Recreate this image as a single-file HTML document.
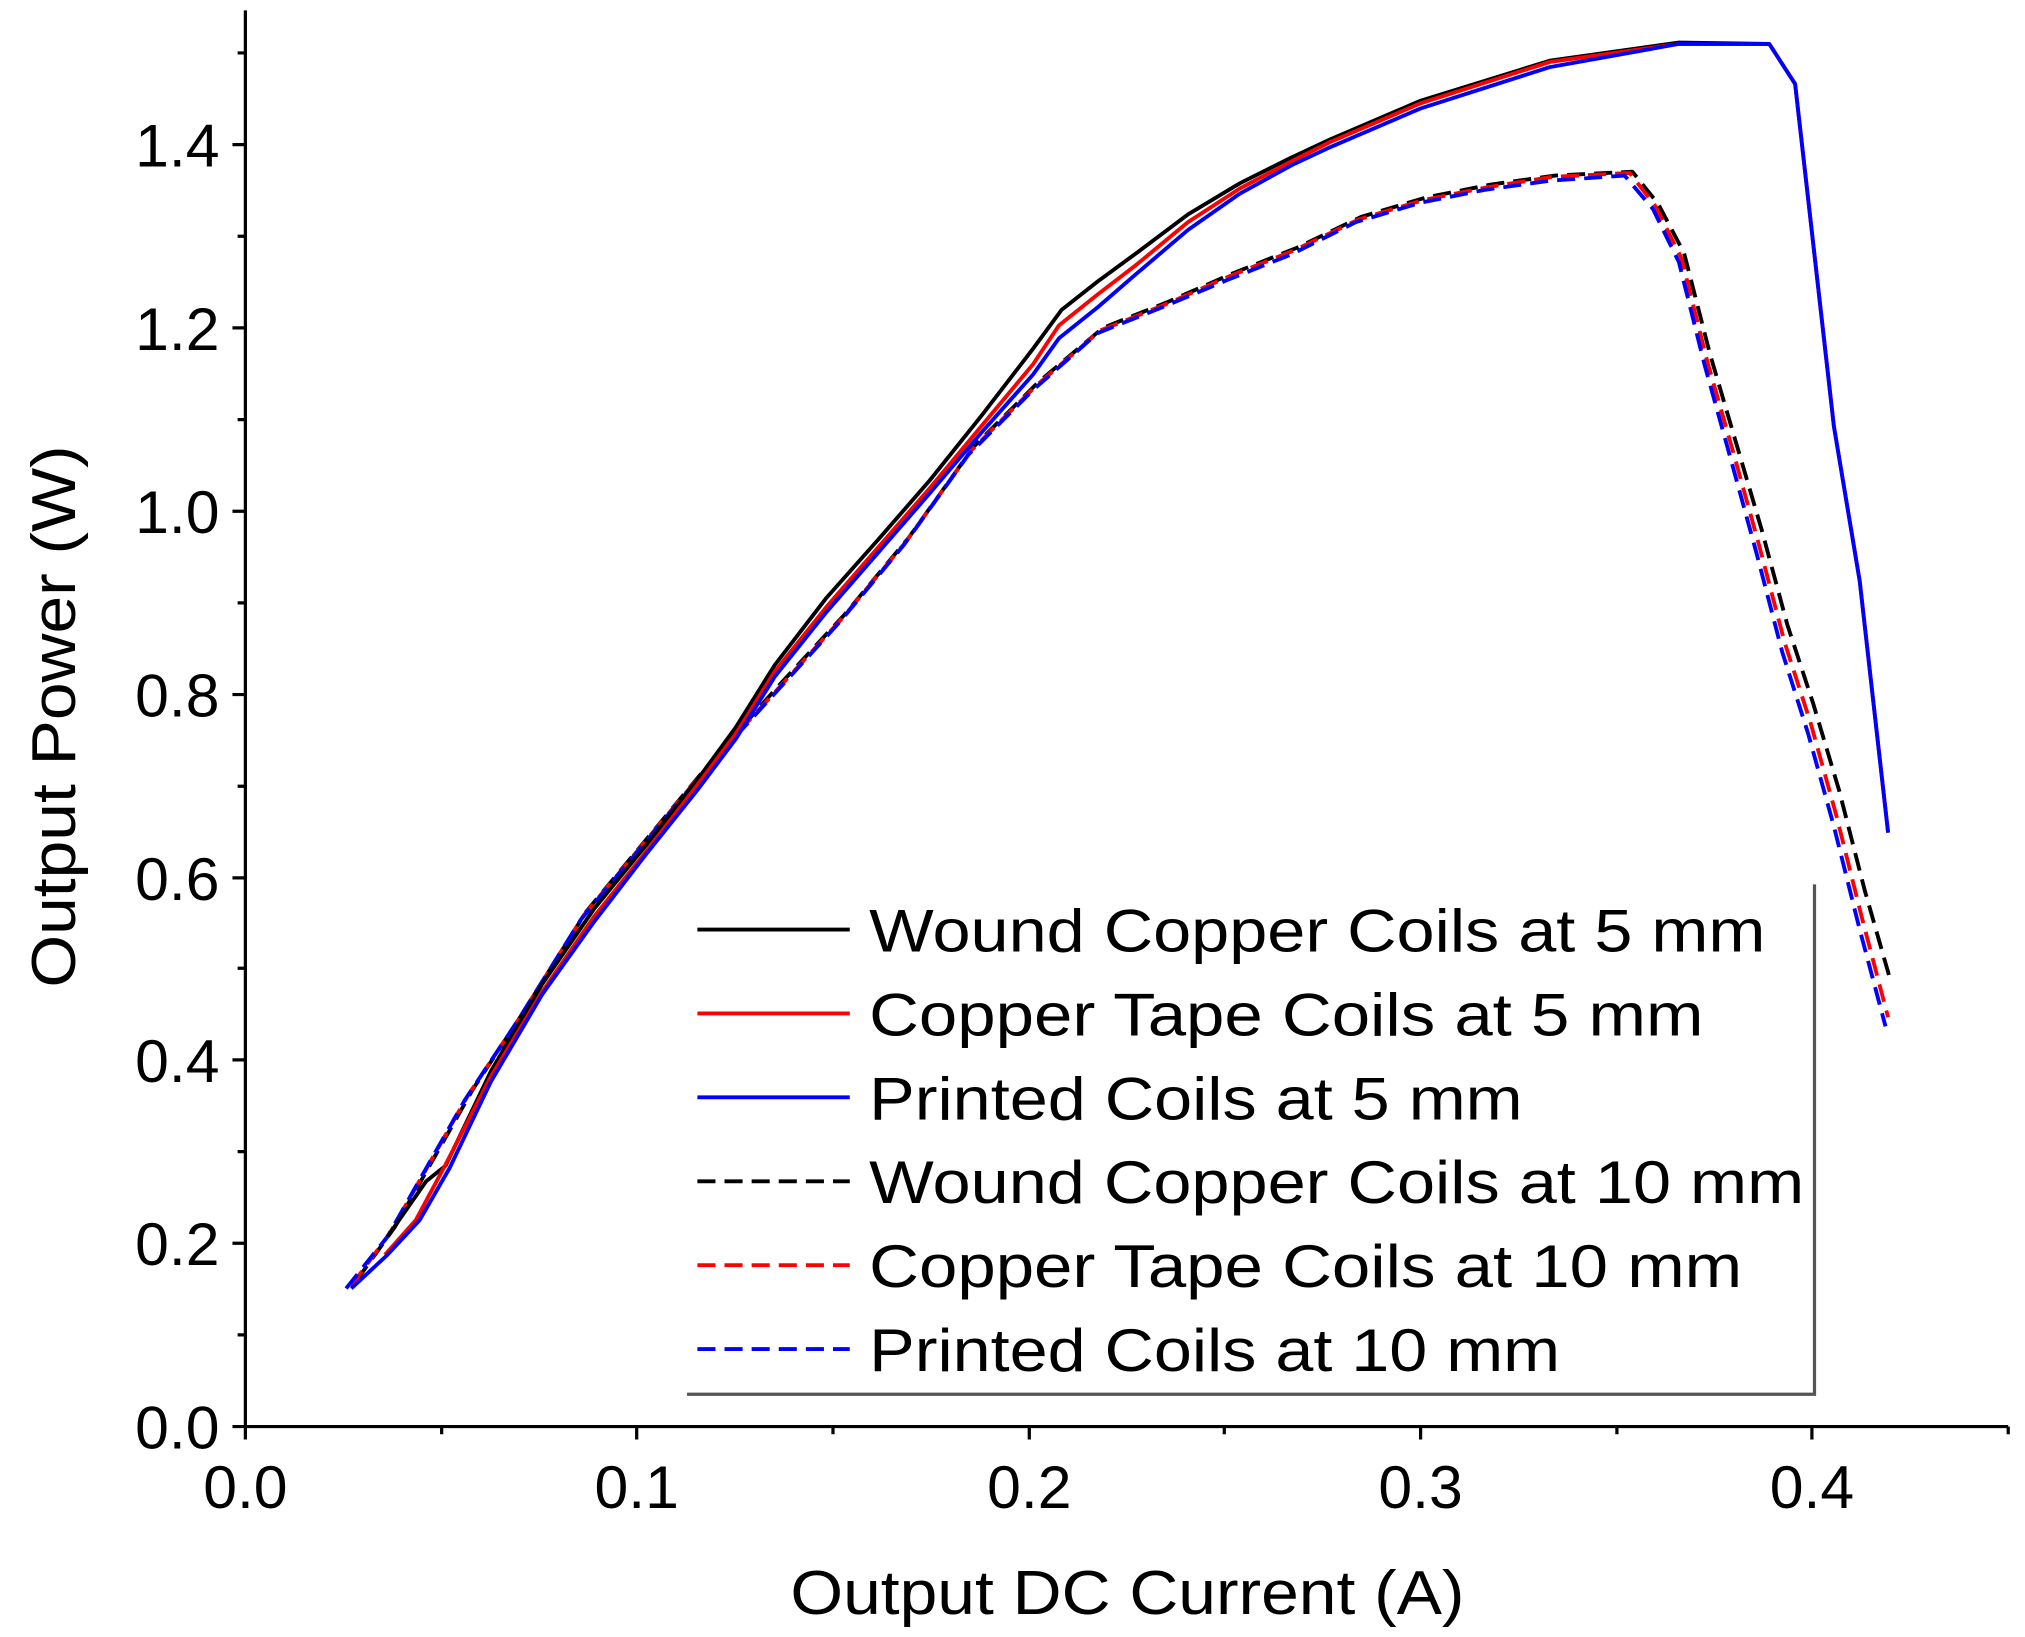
<!DOCTYPE html>
<html><head><meta charset="utf-8"><style>html,body{margin:0;padding:0;background:#fff}svg{display:block}</style></head><body>
<svg width="2025" height="1637" viewBox="0 0 1568 1268" preserveAspectRatio="none" xmlns="http://www.w3.org/2000/svg" font-family="Liberation Sans, Arial, sans-serif">
<rect width="1568" height="1268" fill="#fff"/>
<g stroke="#000" stroke-width="2.5" fill="none">
<line x1="190" y1="8" x2="190" y2="1106"/>
<line x1="189" y1="1105" x2="1555" y2="1105"/>
<path d="M190 112h-10M190 254h-10M190 396h-10M190 538h-10M190 680h-10M190 821h-10M190 963h-10M190 1105h-10
M190 41h-6M190 183h-6M190 325h-6M190 467h-6M190 609h-6M190 750h-6M190 892h-6M190 1034h-6
M190 1105v10M493 1105v10M797 1105v10M1100 1105v10M1403 1105v10
M342 1105v6M645 1105v6M948 1105v6M1252 1105v6M1555 1105v6"/>
</g>
<g font-size="47" fill="#000" text-anchor="end">
<text x="170" y="129">1.4</text><text x="170" y="271">1.2</text><text x="170" y="413">1.0</text><text x="170" y="555">0.8</text><text x="170" y="697">0.6</text><text x="170" y="838">0.4</text><text x="170" y="980">0.2</text><text x="170" y="1122">0.0</text>
</g>
<g font-size="47" fill="#000" text-anchor="middle">
<text x="190" y="1168">0.0</text><text x="493" y="1168">0.1</text><text x="797" y="1168">0.2</text><text x="1100" y="1168">0.3</text><text x="1403" y="1168">0.4</text>
<text x="873" y="1250" font-size="48" textLength="522" lengthAdjust="spacingAndGlyphs">Output DC Current (A)</text>
<text transform="translate(58,555) rotate(-90)" font-size="48" textLength="420" lengthAdjust="spacingAndGlyphs">Output Power (W)</text>
</g>
<g fill="none" stroke-width="3" stroke-linejoin="round">
<path stroke="#000" stroke-dasharray="14,7" d="M276 992L306 950L336 897L366 844L404 786L454 706L504 646L554 586L604 530L654 476L704 416L754 346L804 296L854 254L904 234L954 212L1004 192L1054 168L1104 153L1154 143L1204 136L1264 133L1284 158L1304 196L1324 274L1344 342L1364 410L1384 484L1404 545L1424 612L1444 690L1464 760"/>
<path stroke="#f00" stroke-dasharray="14,7" d="M272 996L302 955L332 902L362 849L402 789L452 709L502 649L552 589L602 534L652 479L702 419L752 349L802 299L852 256L902 236L952 214L1002 194L1052 170L1102 155L1152 145L1202 137L1262 134L1282 160L1302 200L1322 280L1342 350L1362 422L1382 498L1402 560L1422 632L1442 712L1462 788"/>
<path stroke="#00f" stroke-dasharray="14,7" d="M268 998L300 958L330 905L360 852L400 792L450 712L500 652L550 592L600 537L650 482L700 422L750 352L800 302L850 258L900 238L950 217L1000 197L1050 172L1100 157L1150 147L1200 140L1258 136L1280 162L1300 203L1320 283L1340 355L1360 428L1380 505L1400 568L1420 640L1440 720L1460 795"/>
<path stroke="#000" d="M300 958L330 915L345 903L380 830L420 762L460 704L500 655L540 604L570 563L600 515L640 463L680 418L720 372L760 322L800 270L822 240L850 218L880 196L920 166L960 142L1000 122L1030 108L1100 78L1200 47L1300 33L1370 34"/>
<path stroke="#f00" d="M298 972L322 945L345 902L380 834L420 768L460 710L500 660L540 608L570 568L600 520L640 470L680 424L720 378L760 330L800 282L820 252L850 228L880 205L920 172L960 146L1000 125L1030 110L1100 80L1200 48L1300 34L1370 34L1390 65L1420 330L1440 450L1462 645"/>
<path stroke="#00f" d="M272 998L300 972L325 945L348 905L380 838L420 770L460 714L500 662L540 612L570 572L600 524L640 474L680 428L720 382L760 335L800 290L820 262L850 238L880 212L920 178L960 150L1000 128L1030 114L1100 84L1200 52L1300 34L1370 34L1390 65L1420 330L1440 450L1462 645"/>
</g>
<g stroke="#555" stroke-width="2.5" fill="none"><path d="M1405 685V1080H532"/></g>
<g stroke-width="3">
<line x1="540" y1="720" x2="658" y2="720" stroke="#000"/>
<line x1="540" y1="785" x2="658" y2="785" stroke="#f00"/>
<line x1="540" y1="850" x2="658" y2="850" stroke="#00f"/>
<line x1="540" y1="915" x2="658" y2="915" stroke="#000" stroke-dasharray="14,7"/>
<line x1="540" y1="980" x2="658" y2="980" stroke="#f00" stroke-dasharray="14,7"/>
<line x1="540" y1="1045" x2="658" y2="1045" stroke="#00f" stroke-dasharray="14,7"/>
</g>
<g font-size="47" fill="#000">
<text x="673" y="737" textLength="694" lengthAdjust="spacingAndGlyphs">Wound Copper Coils at 5 mm</text>
<text x="673" y="802" textLength="646" lengthAdjust="spacingAndGlyphs">Copper Tape Coils at 5 mm</text>
<text x="673" y="867" textLength="506" lengthAdjust="spacingAndGlyphs">Printed Coils at 5 mm</text>
<text x="673" y="932" textLength="724" lengthAdjust="spacingAndGlyphs">Wound Copper Coils at 10 mm</text>
<text x="673" y="997" textLength="676" lengthAdjust="spacingAndGlyphs">Copper Tape Coils at 10 mm</text>
<text x="673" y="1062" textLength="535" lengthAdjust="spacingAndGlyphs">Printed Coils at 10 mm</text>
</g>
</svg>
</body></html>
